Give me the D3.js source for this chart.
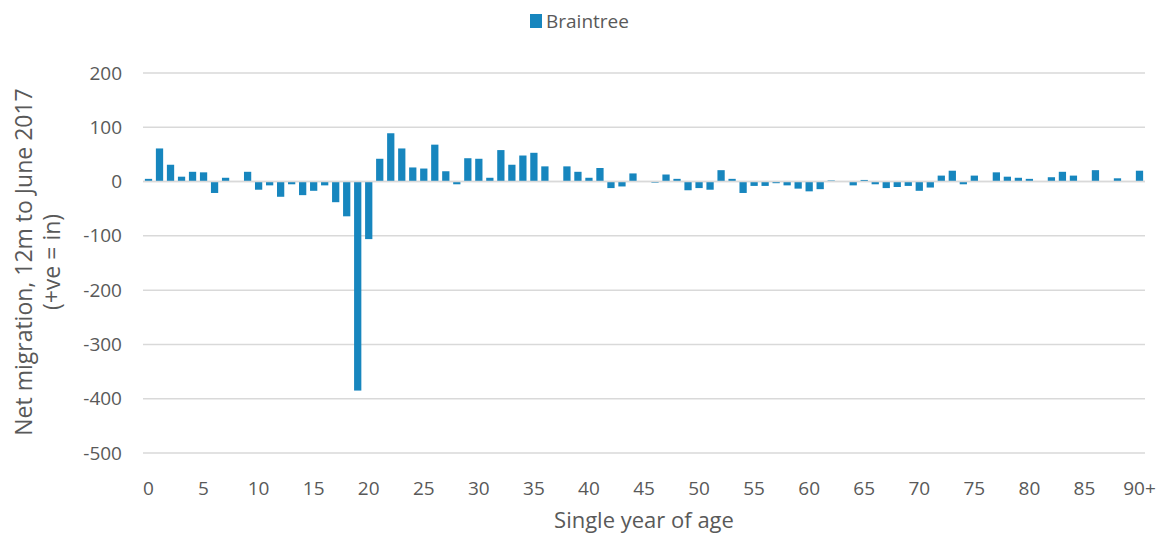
<!DOCTYPE html>
<html>
<head>
<meta charset="utf-8">
<script src="https://cdnjs.cloudflare.com/ajax/libs/d3/7.8.5/d3.min.js"></script>
<style>
  body { margin: 0; background: #fff; }
  text { font-family: "Open Sans", sans-serif; fill: #595959; }
</style>
</head>
<body>
<div id="chart-area"></div>
<script>
// ages 0..89 plus "90+"
const ages = d3.range(0, 90).map(String).concat(['90+']);

const netMigration = [
  5, 61, 31, 9, 18, 17, -21, 7, 0, 18,
  -15, -7, -28, -5, -25, -17, -7, -38, -64, -385,
  -106, 42, 89, 61, 26, 24, 68, 19, -5, 43,
  42, 7, 58, 31, 48, 53, 28, 0, 28, 18,
  7, 25, -12, -9, 15, 0, -2, 13, 5, -16,
  -12, -15, 21, 5, -21, -8, -8, -3, -7, -13,
  -18, -14, 2, 0, -7, 3, -5, -12, -10, -8,
  -17, -11, 11, 20, -5, 11, 1, 17, 9, 7,
  5, 0, 8, 18, 11, 0, 21, 1, 6, 0,
  20
];

const yTicks = [200, 100, 0, -100, -200, -300, -400, -500];
const xTickLabels = ['0', '5', '10', '15', '20', '25', '30', '35', '40', '45',
  '50', '55', '60', '65', '70', '75', '80', '85', '90+'];

const seriesName = 'Braintree';
const barColor = '#1786be';

const margin = { left: 143, right: 17, top: 73, bottom: 83 };
const totalW = 1162, totalH = 536;
const width = totalW - margin.left - margin.right;
const height = totalH - margin.top - margin.bottom;

const svg = d3.select('#chart-area').append('svg')
  .attr('width', totalW)
  .attr('height', totalH);

const chart = svg.append('g')
  .attr('transform', `translate(${margin.left},${margin.top})`);

const x = d3.scaleBand()
  .domain(ages)
  .range([0, width])
  .paddingInner(0.34)
  .paddingOuter(0.17);

const y = d3.scaleLinear()
  .domain([-500, 200])
  .range([height, 0]);

// gridlines
chart.selectAll('.grid')
  .data(yTicks)
  .enter().append('line')
    .attr('class', 'grid')
    .attr('x1', 0)
    .attr('x2', width)
    .attr('y1', d => y(d))
    .attr('y2', d => y(d))
    .attr('stroke', '#d9d9d9')
    .attr('stroke-width', 1.5);

// y-axis labels (plain hyphen for negatives)
const yAxis = d3.axisLeft(y).tickValues(yTicks)
  .tickFormat(d => String(d))
  .tickSize(0).tickPadding(21);
chart.append('g').call(yAxis)
  .call(g => g.select('.domain').remove())
  .selectAll('text')
    .attr('font-size', '19px')
    .attr('fill', '#595959')
    .style('font-family', '"Open Sans", sans-serif');

// bars
const data = ages.map((a, i) => ({ age: a, value: netMigration[i] }));
chart.selectAll('rect')
  .data(data)
  .enter().append('rect')
    .attr('x', d => x(d.age))
    .attr('width', x.bandwidth())
    .attr('y', d => y(Math.max(0, d.value)))
    .attr('height', d => Math.abs(y(d.value) - y(0)))
    .attr('fill', barColor);

// zero line drawn over bars
chart.append('line')
  .attr('x1', 0).attr('x2', width)
  .attr('y1', y(0)).attr('y2', y(0))
  .attr('stroke', '#d9d9d9')
  .attr('stroke-width', 1.5);

// x-axis labels
const xAxis = d3.axisBottom(x)
  .tickValues(ages.filter((a, i) => i % 5 === 0))
  .tickFormat((d, i) => xTickLabels[i])
  .tickSize(0).tickPadding(29);
chart.append('g')
  .attr('transform', `translate(0,${height})`)
  .call(xAxis)
  .call(g => g.select('.domain').remove())
  .selectAll('text')
    .attr('font-size', '19px')
    .attr('fill', '#595959')
    .style('font-family', '"Open Sans", sans-serif');

// x label
svg.append('text')
  .attr('x', 644)
  .attr('y', 528)
  .attr('font-size', '22px')
  .attr('text-anchor', 'middle')
  .text('Single year of age');

// y label
const yLabel = svg.append('text')
  .attr('transform', 'translate(0,262) rotate(-90)')
  .attr('font-size', '23px')
  .attr('text-anchor', 'middle');
yLabel.append('tspan').attr('x', 0).attr('y', 32).text('Net migration, 12m to June 2017');
yLabel.append('tspan').attr('x', 0).attr('y', 60).text('(+ve = in)');

// legend
const legend = svg.append('g').attr('transform', 'translate(530,14)');
legend.append('rect')
  .attr('width', 12).attr('height', 14)
  .attr('fill', barColor);
legend.append('text')
  .attr('x', 16).attr('y', 14)
  .attr('font-size', '19px')
  .text(seriesName);
</script>
</body>
</html>
